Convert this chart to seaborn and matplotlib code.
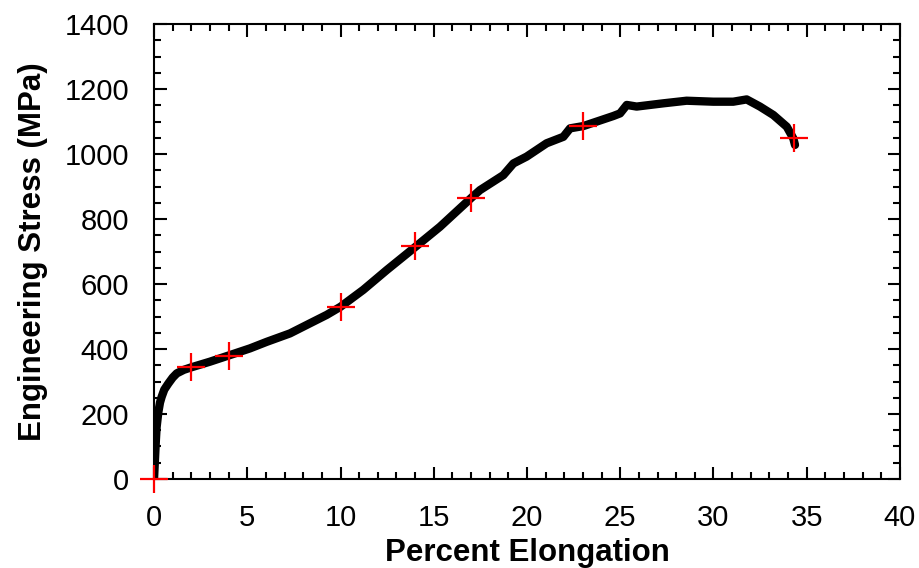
import matplotlib
matplotlib.use('Agg')
import matplotlib.pyplot as plt
from matplotlib.ticker import MultipleLocator
import pandas as pd
import seaborn as sns

# Curve (percent elongation, MPa)
elongation = [0.0, 0.05, 0.1, 0.14, 0.23, 0.32, 0.41, 0.55, 0.77, 1.0, 1.22, 1.6, 2.02,
              3.0, 4.0, 5.15, 6.04, 7.29, 8.36, 9.26, 10.0, 11.22, 12.48, 14.03, 15.33,
              17.03, 17.48, 18.73, 19.27, 19.98, 21.05, 21.95, 22.31, 23.02, 24.63,
              24.99, 25.35, 25.88, 27.31, 28.56, 29.99, 31.06, 31.78, 32.49, 33.21,
              33.93, 34.28, 34.37]
stress = [0, 60, 120, 160, 205, 235, 253, 275, 294, 312, 325, 336, 344,
          361, 380, 402, 422, 448, 479, 505, 530, 582, 643, 715, 776,
          866, 889, 935, 971, 992, 1033, 1053, 1079, 1086, 1117,
          1125, 1151, 1146, 1156, 1164, 1161, 1161, 1168, 1146, 1120,
          1084, 1048, 1028]

# Marked points (red crosses)
mark_elong = [0, 2, 4, 10, 14, 17, 23, 34.3]
mark_stress = [0, 345, 380, 530, 716, 866, 1086, 1048]

curve = pd.DataFrame({'elong': elongation, 'stress': stress})
marks = pd.DataFrame({'elong': mark_elong, 'stress': mark_stress})

sns.set_style('ticks')
plt.rcParams['font.family'] = ['Liberation Sans', 'DejaVu Sans']
plt.rcParams['text.color'] = 'black'
plt.rcParams['axes.labelcolor'] = 'black'
plt.rcParams['xtick.color'] = 'black'
plt.rcParams['ytick.color'] = 'black'

fig = plt.figure(figsize=(9.19, 5.68), dpi=100)
ax = fig.add_axes([0.1676, 0.1567, 0.8117, 0.8010])

sns.lineplot(data=curve, x='elong', y='stress', sort=False, color='black',
             linewidth=6, ax=ax, solid_capstyle='round', solid_joinstyle='round')
sns.scatterplot(data=marks, x='elong', y='stress', marker='+', s=380,
                color='red', linewidth=1.6, ax=ax, zorder=5, clip_on=False)

ax.set_xlim(0, 40)
ax.set_ylim(0, 1400)
ax.xaxis.set_major_locator(MultipleLocator(5))
ax.xaxis.set_minor_locator(MultipleLocator(1))
ax.yaxis.set_major_locator(MultipleLocator(200))
ax.yaxis.set_minor_locator(MultipleLocator(50))

ax.tick_params(which='both', direction='in', top=True, right=True, width=1.5, colors='black')
ax.tick_params(which='major', length=9)
ax.tick_params(which='minor', length=5)
ax.tick_params(axis='x', which='major', labelsize=21, pad=18)
ax.tick_params(axis='y', which='major', labelsize=21, pad=18)
for sp in ax.spines.values():
    sp.set_linewidth(1.5)
    sp.set_color('black')

ax.set_xlabel('Percent Elongation', fontsize=22.5, fontweight='bold', labelpad=4)
ax.set_ylabel('Engineering Stress (MPa)', fontsize=22.5, fontweight='bold', labelpad=12)

fig.savefig('out.png', dpi=100)
